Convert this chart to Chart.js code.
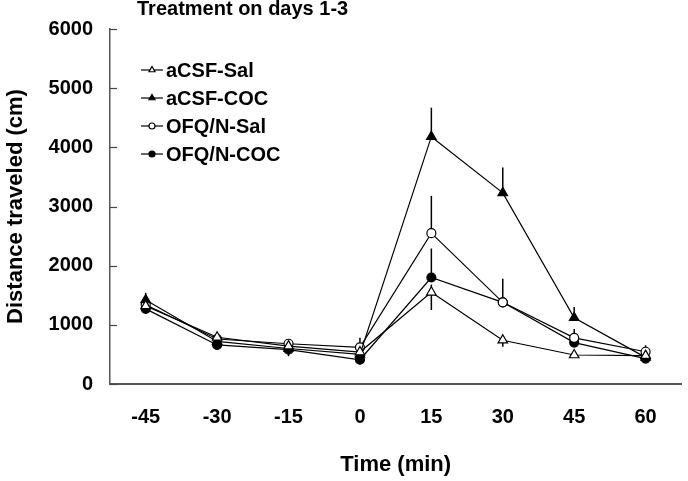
<!DOCTYPE html>
<html>
<head>
<meta charset="utf-8">
<script src="https://cdn.jsdelivr.net/npm/chart.js@4.4.1/dist/chart.umd.min.js"></script>
<style>
  html, body { margin: 0; padding: 0; background: #fff; }
</style>
</head>
<body>
<canvas id="chartDistancia" width="688" height="481"></canvas>
<script>
// Tiempo (min) y distancia recorrida (cm), tratamiento dias 1-3
var times = ['-45', '-30', '-15', '0', '15', '30', '45', '60'];
var yTicks = [0, 1000, 2000, 3000, 4000, 5000, 6000];

var aCsfSal = [1320, 790, 640, 540, 1550, 740, 490, 480];
var aCsfCoc = [1420, 720, 600, 500, 4180, 3230, 1120, 450];
var ofqSal = [1340, 760, 680, 620, 2550, 1380, 780, 545];
var ofqCoc = [1270, 660, 580, 410, 1800, 1380, 700, 430];

// error bars (SEM), up and down
var aCsfSalUp = [0, 80, 0, 0, 130, 0, 0, 0];
var aCsfSalDown = [0, 0, 0, 0, 300, 110, 0, 0];
var aCsfCocUp = [120, 0, 0, 0, 490, 430, 180, 0];
var aCsfCocDown = [0, 0, 0, 0, 0, 0, 0, 0];
var ofqSalUp = [0, 0, 60, 160, 630, 0, 150, 110];
var ofqSalDown = [0, 0, 0, 0, 0, 0, 0, 0];
var ofqCocUp = [0, 0, 0, 0, 490, 400, 0, 0];
var ofqCocDown = [0, 0, 110, 0, 0, 0, 0, 0];

var FONT = "'Liberation Sans', Arial, sans-serif";

function serie(label, data, style, fill, up, down) {
    return {
        label: label,
        data: data,
        errUp: up,
        errDown: down,
        borderColor: '#000',
        borderWidth: 1.2,
        pointStyle: style,
        pointRadius: style === 'triangle' ? 5.5 : 4.5,
        pointHoverRadius: style === 'triangle' ? 5.5 : 4.5,
        pointBackgroundColor: fill,
        pointBorderColor: '#000',
        pointBorderWidth: 1.2,
        tension: 0,
        fill: false
    };
}

var errorBars = {
    id: 'errorBars',
    beforeDatasetsDraw: function(chart) {
        var ctx = chart.ctx;
        var y = chart.scales.y;
        ctx.save();
        ctx.strokeStyle = '#000';
        ctx.lineWidth = 1.5;
        chart.data.datasets.forEach(function(ds, i) {
            var meta = chart.getDatasetMeta(i);
            meta.data.forEach(function(pt, j) {
                var v = ds.data[j];
                var top = y.getPixelForValue(v + (ds.errUp[j] || 0));
                var bot = y.getPixelForValue(v - (ds.errDown[j] || 0));
                if (top === bot) return;
                ctx.beginPath();
                ctx.moveTo(pt.x, top);
                ctx.lineTo(pt.x, bot);
                ctx.stroke();
            });
        });
        ctx.restore();
    }
};

var extras = {
    id: 'extras',
    afterDraw: function(chart) {
        var ctx = chart.ctx;
        var y = chart.scales.y;
        var left = chart.chartArea.left;
        ctx.save();
        // inner y ticks
        ctx.strokeStyle = '#444';
        ctx.lineWidth = 1.2;
        yTicks.forEach(function(t) {
            var py = Math.round(y.getPixelForValue(t)) + 0.5;
            ctx.beginPath();
            ctx.moveTo(left, py);
            ctx.lineTo(left + 7, py);
            ctx.stroke();
        });
        // title
        ctx.fillStyle = '#000';
        ctx.font = 'bold 20px ' + FONT;
        ctx.textAlign = 'left';
        ctx.textBaseline = 'middle';
        ctx.fillText('Treatment on days 1-3', 137, 9);
        // legend
        var rows = [70, 98, 126, 154];
        chart.data.datasets.forEach(function(ds, i) {
            var ry = rows[i];
            ctx.strokeStyle = '#000';
            ctx.lineWidth = 1.2;
            ctx.beginPath();
            ctx.moveTo(141, ry);
            ctx.lineTo(163, ry);
            ctx.stroke();
            ctx.fillStyle = ds.pointBackgroundColor;
            Chart.helpers.drawPoint(ctx, {
                pointStyle: ds.pointStyle,
                radius: ds.pointStyle === 'triangle' ? 3.5 : 3,
                borderWidth: 1.2,
                rotation: 0
            }, 152, ry);
            ctx.fillStyle = '#000';
            ctx.font = 'bold 20px ' + FONT;
            ctx.fillText(ds.label, 166, ry + 1);
        });
        ctx.restore();
    }
};

new Chart(document.getElementById('chartDistancia').getContext('2d'), {
    type: 'line',
    data: {
        labels: times,
        datasets: [
            serie('aCSF-Sal', aCsfSal, 'triangle', '#fff', aCsfSalUp, aCsfSalDown),
            serie('aCSF-COC', aCsfCoc, 'triangle', '#000', aCsfCocUp, aCsfCocDown),
            serie('OFQ/N-Sal', ofqSal, 'circle', '#fff', ofqSalUp, ofqSalDown),
            serie('OFQ/N-COC', ofqCoc, 'circle', '#000', ofqCocUp, ofqCocDown)
        ]
    },
    options: {
        responsive: false,
        animation: false,
        layout: { padding: { top: 24, right: 0, left: 0, bottom: 0 } },
        plugins: {
            legend: { display: false },
            title: { display: false },
            tooltip: { enabled: false }
        },
        scales: {
            x: {
                offset: true,
                grid: { display: false, drawTicks: false },
                border: { display: true, color: '#555', width: 2 },
                ticks: {
                    color: '#000',
                    padding: 21,
                    maxRotation: 0,
                    font: { family: FONT, size: 20, weight: 'bold' }
                },
                title: {
                    display: true,
                    text: 'Time (min)',
                    color: '#000',
                    padding: { top: 0, bottom: 3 },
                    font: { family: FONT, size: 22, weight: 'bold' }
                },
                afterFit: function(scale) { scale.height = 97; }
            },
            y: {
                min: 0,
                max: 6000,
                grid: { display: false, drawTicks: false },
                border: { display: true, color: '#555', width: 1.5 },
                afterBuildTicks: function(scale) {
                    scale.ticks = yTicks.map(function(v) { return { value: v }; });
                },
                ticks: {
                    color: '#000',
                    padding: 17,
                    font: { family: FONT, size: 20, weight: 'bold' },
                    callback: function(value) { return String(value); }
                },
                title: {
                    display: true,
                    text: 'Distance traveled (cm)',
                    color: '#000',
                    padding: { top: 3, bottom: 0 },
                    font: { family: FONT, size: 22, weight: 'bold' }
                },
                afterFit: function(scale) { scale.width = 110; }
            }
        }
    },
    plugins: [errorBars, extras]
});
</script>
</body>
</html>
